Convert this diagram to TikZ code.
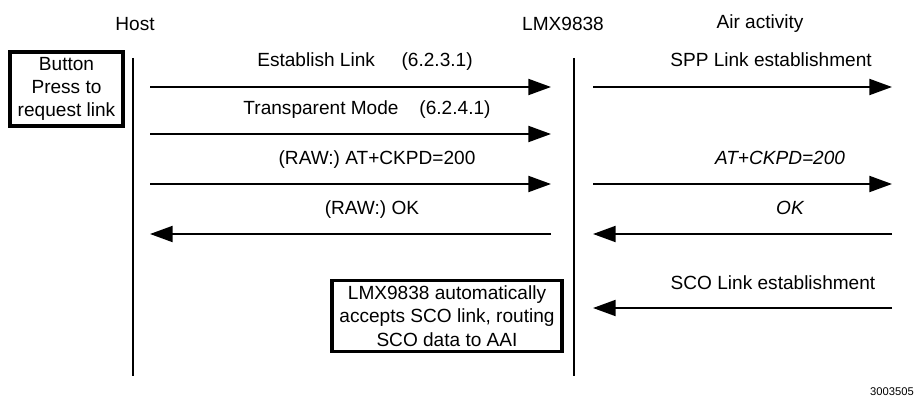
\documentclass[tikz,border=0pt]{standalone}
\usepackage{fontspec}
\setmainfont{Liberation Sans}
\usepackage{tikz}
\usetikzlibrary{positioning,arrows.meta}

\begin{document}
\begin{tikzpicture}[
  x=0.75pt, y=-0.75pt,
  every node/.style={font=\fontsize{14.3}{17.5}\selectfont},
  hd/.style={inner sep=0pt},
  msg/.style={inner sep=0pt, anchor=base},
  box/.style={draw, line width=2.5pt, align=center, inner sep=0pt},
  life/.style={line width=1.3pt},
  sig/.style={-{Triangle[length=17pt,width=12pt]}, line width=1.5pt}]

\useasboundingbox (0,0) rectangle (916,403);

% ---- the three columns -------------------------------------------------
\node[hd] (HOST) at (135,24) {Host};
\node[hd] (LMX) at (563,24) {LMX9838};
\node[hd] (AIR) at (760,24) {Air activity};

\coordinate (ht) at (133,58);
\coordinate (hb) at (133,376);
\coordinate (lt) at (574,58);
\coordinate (lb) at (574,376);
\draw[life] (ht) -- (hb);
\draw[life] (lt) -- (lb);

\node[box, minimum width=84.75pt, minimum height=55.5pt] (BTN) at (66.5,89)
  {Button\\ Press to\\ request link};

% ---- host <-> LMX9838 ----------------------------------------------------
\coordinate (a1) at (150,87);   \coordinate (b1) at (551,87);
\coordinate (a2) at (150,134);  \coordinate (b2) at (551,134);
\coordinate (a3) at (150,184);  \coordinate (b3) at (551,184);
\coordinate (a4) at (150,234);  \coordinate (b4) at (551,234);
\draw[sig] (a1) -- (b1);
\draw[sig] (a2) -- (b2);
\draw[sig] (a3) -- (b3);
\draw[sig] (b4) -- (a4);
\node[msg] (EL) at (365,67) {Establish Link\hspace{1.4em}(6.2.3.1)};
\node[msg] (TM) at (367,114) {Transparent Mode\hspace{1.1em}(6.2.4.1)};
\node[msg] (AT) at (377,164) {(RAW:) AT+CKPD=200};
\node[msg] (OK) at (372,214) {(RAW:) OK};

% ---- LMX9838 <-> air ------------------------------------------------------
\coordinate (c1) at (593,87);   \coordinate (d1) at (892,87);
\coordinate (c3) at (593,184);  \coordinate (d3) at (892,184);
\coordinate (c4) at (593,234);  \coordinate (d4) at (892,234);
\coordinate (c5) at (593,308);  \coordinate (d5) at (892,308);
\draw[sig] (c1) -- (d1);
\draw[sig] (c3) -- (d3);
\draw[sig] (d4) -- (c4);
\draw[sig] (d5) -- (c5);
\node[msg] (SPP) at (771,67) {SPP Link establishment};
\node[msg] (ATA) at (780,164) {\itshape AT+CKPD=200};
\node[msg] (OKA) at (790,214) {\itshape OK};
\node[msg] (SCO) at (773,289) {SCO Link establishment};

\node[box, minimum width=172.5pt, minimum height=53pt] (ACC) at (447,316)
  {LMX9838 automatically\\ accepts SCO link, routing\\ SCO data to AAI};

\node[hd, anchor=east, font=\fontsize{8.4}{9}\selectfont] (FIG) at (914,392) {3003505};

\end{tikzpicture}
\end{document}
